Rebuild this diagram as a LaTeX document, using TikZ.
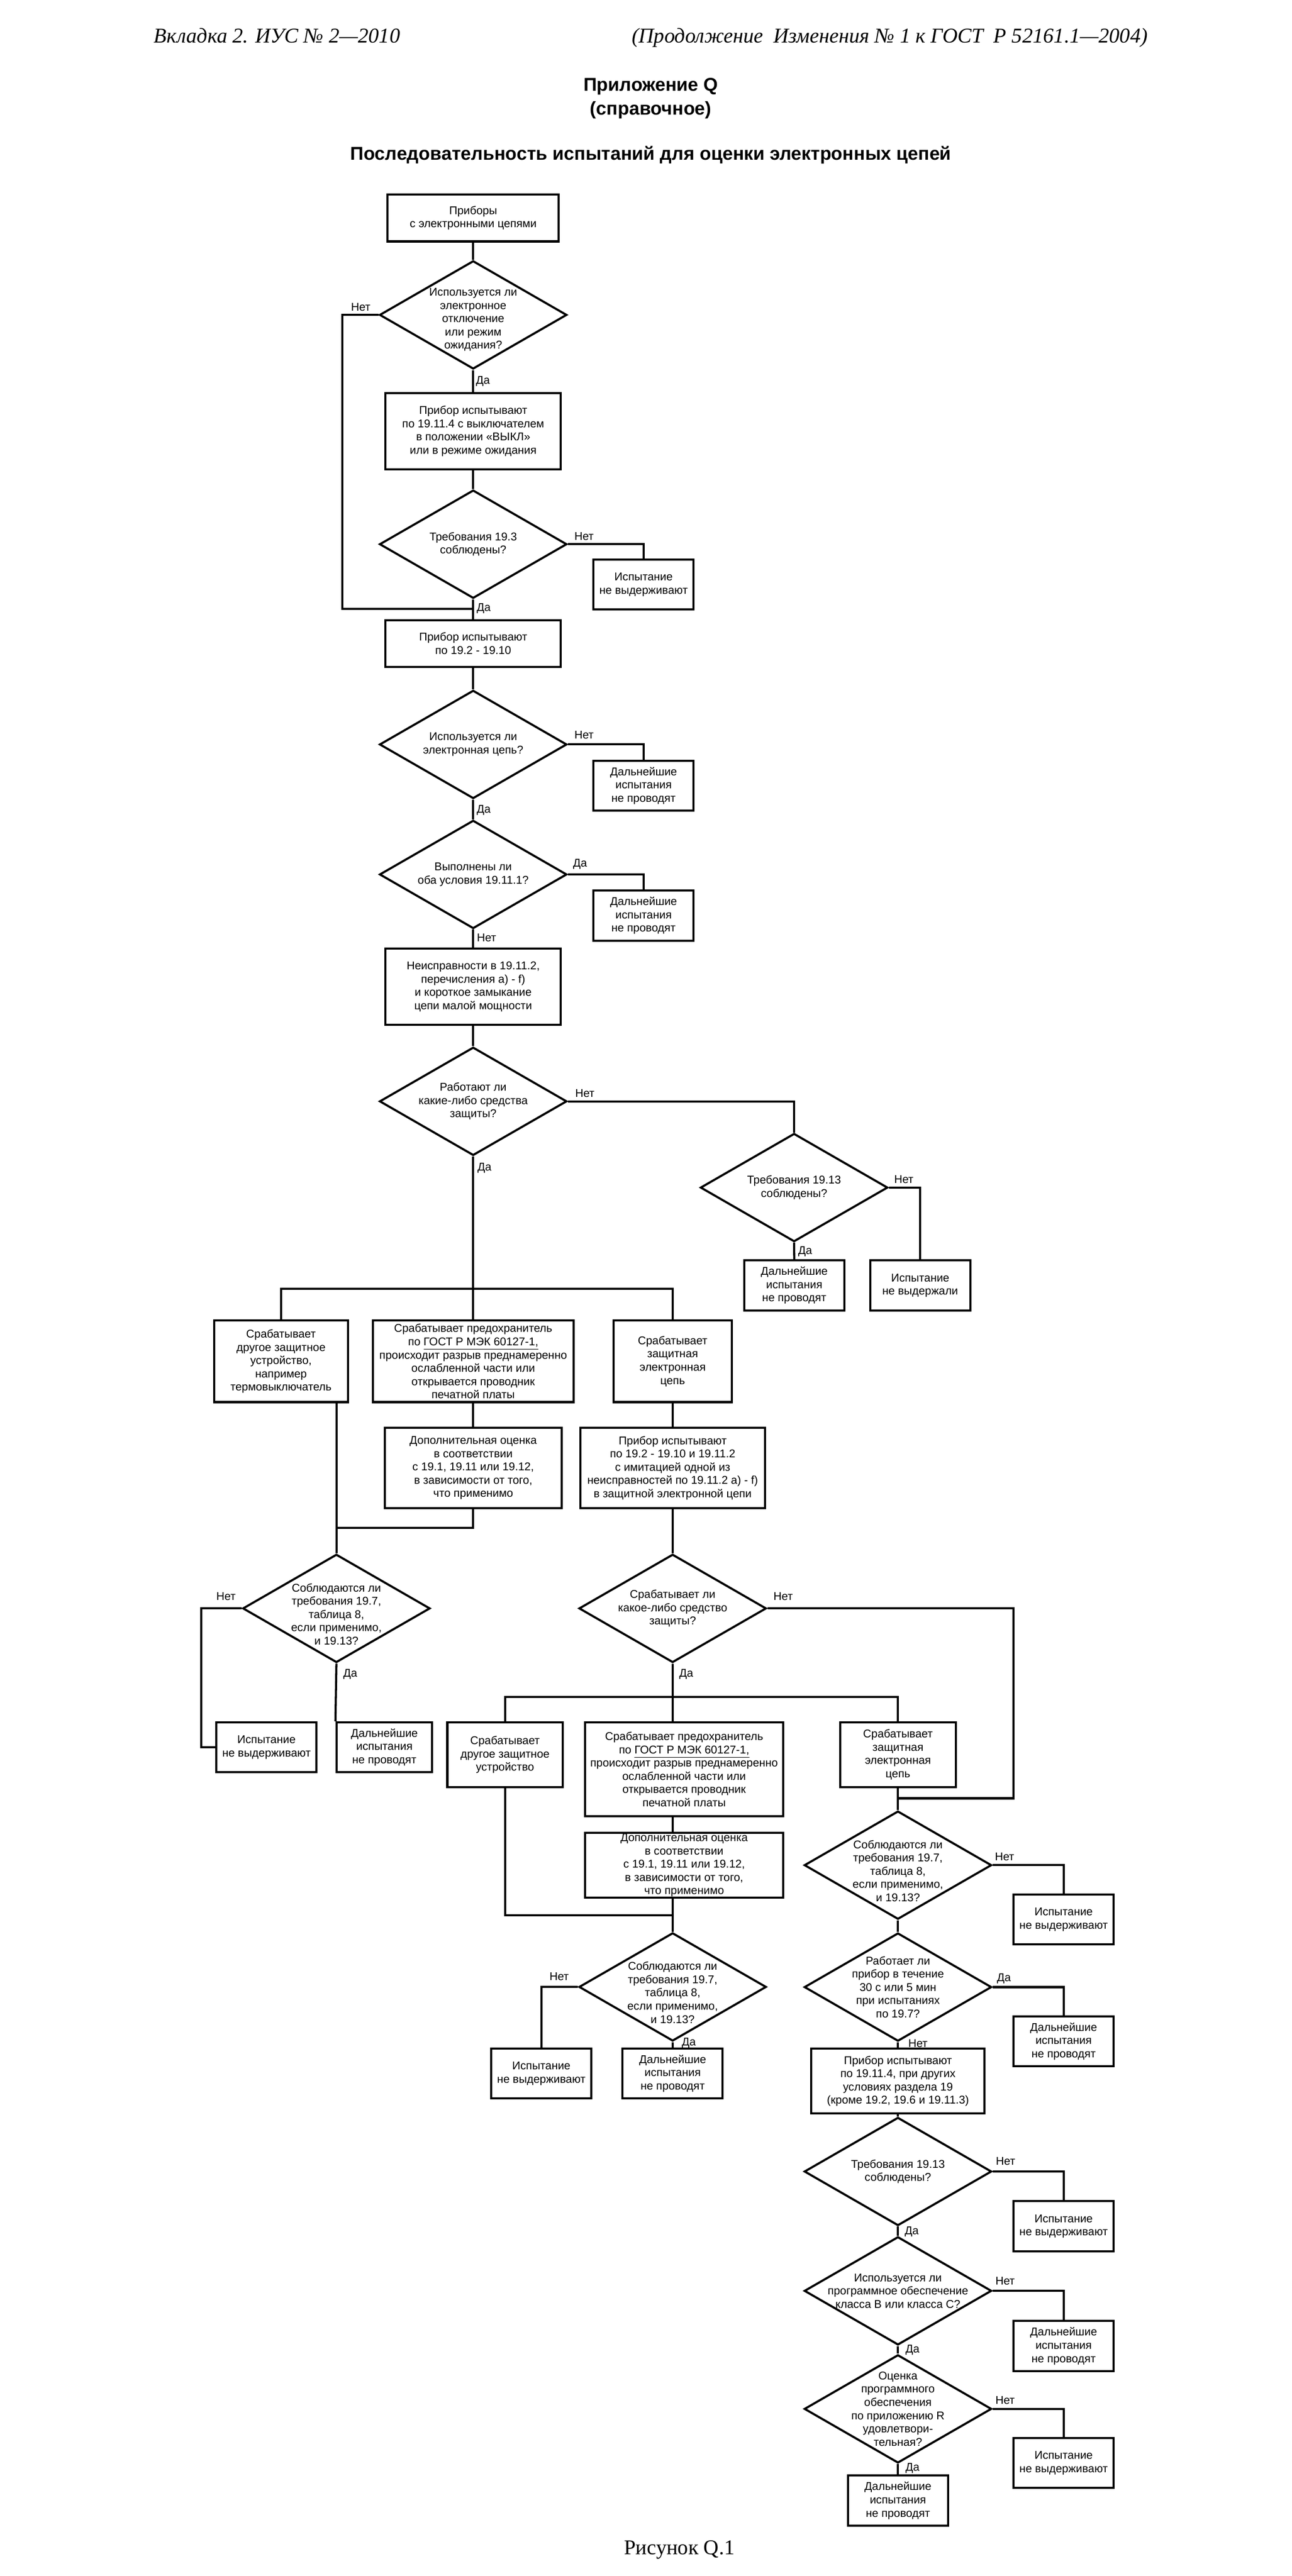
\documentclass[tikz,border=0pt]{standalone}
\usepackage{fontspec}
\setmainfont{Liberation Sans}
\newfontfamily\serifhead{Liberation Serif}
\usetikzlibrary{shapes.geometric, calc}
\tikzstyle{process} = [rectangle, draw=black, line width=1.3pt, inner sep=0pt, align=center, font=\fontsize{7}{8.2}\selectfont]
\tikzstyle{smallbox} = [process, minimum width=62pt, minimum height=31pt]
\tikzstyle{decision} = [diamond, draw=black, line width=1.3pt, inner sep=0pt, minimum width=116pt, minimum height=67pt]
\tikzstyle{qtext} = [align=center, inner sep=0pt, font=\fontsize{7}{8.2}\selectfont]
\tikzstyle{answer} = [inner sep=0pt, font=\fontsize{7}{8.2}\selectfont]
\tikzstyle{flow} = [line width=1.3pt]
\begin{document}
\begin{tikzpicture}[x=1pt, y=-1pt]
      \useasboundingbox (0,0) rectangle (800,1595.2);
      \node (hdleft) [anchor=base west, font=\serifhead\itshape\fontsize{13}{15}\selectfont] at (91.8,26.5) {Вкладка 2. ИУС № 2—2010};
      \node (hdright) [anchor=base east, font=\serifhead\itshape\fontsize{13}{15}\selectfont] at (714.2,26.5) {(Продолжение\ \ Изменения № 1 к ГОСТ\ \ Р 52161.1—2004)};
      \node (annex) [anchor=base, font=\bfseries\fontsize{11.5}{13}\selectfont] at (403,56.5) {Приложение Q};
      \node (annexkind) [anchor=base, font=\bfseries\fontsize{11.5}{13}\selectfont] at (403,71) {(справочное)};
      \node (title) [anchor=base, font=\bfseries\fontsize{11.5}{13}\selectfont] at (403,99) {Последовательность испытаний для оценки электронных цепей};
      \node (caption) [anchor=base, font=\serifhead\fontsize{13}{15}\selectfont] at (420.7,1582) {Рисунок Q.1};

      \node (start) [process, minimum width=106pt, minimum height=29pt] at (293,135) {Приборы\\ с электронными цепями};
      \node (q1) [decision, label={[qtext, yshift=-3pt]center:{Используется ли\\ электронное\\ отключение\\ или режим\\ ожидания?}}] at (293,195) {};
      \node (offtest) [process, minimum width=108.5pt, minimum height=47pt] at (293,267) {Прибор испытывают\\ по 19.11.4 с выключателем\\ в положении «ВЫКЛ»\\ или в режиме ожидания};
      \node (q2) [decision, label={[qtext]center:{Требования 19.3\\ соблюдены?}}] at (293,337) {};
      \node (fail1) [smallbox] at (398.5,362) {Испытание\\ не выдерживают};
      \node (gentest) [process, minimum width=108.5pt, minimum height=29pt] at (293,398.5) {Прибор испытывают\\ по 19.2 - 19.10};
      \node (q3) [decision, label={[qtext]center:{Используется ли\\ электронная цепь?}}] at (293,461) {};
      \node (stop1) [smallbox] at (398.5,486.5) {Дальнейшие\\ испытания\\ не проводят};
      \node (q4) [decision, label={[qtext]center:{Выполнены ли\\ оба условия 19.11.1?}}] at (293,541.5) {};
      \node (stop2) [smallbox] at (398.5,567) {Дальнейшие\\ испытания\\ не проводят};
      \node (faults) [process, minimum width=108.5pt, minimum height=47.5pt] at (293,611) {Неисправности в 19.11.2,\\ перечисления a) - f)\\ и короткое замыкание\\ цепи малой мощности};
      \node (q5) [decision, label={[qtext]center:{Работают ли\\ какие-либо средства\\ защиты?}}] at (293,682) {};
      \node (q6) [decision, label={[qtext]center:{Требования 19.13\\ соблюдены?}}] at (491.7,735.4) {};
      \node (stop3) [smallbox] at (491.8,796) {Дальнейшие\\ испытания\\ не проводят};
      \node (fail2) [smallbox] at (569.8,796) {Испытание\\ не выдержали};

      \node (devA) [process, minimum width=82.8pt, minimum height=50.5pt] at (174,843) {Срабатывает\\ другое защитное\\ устройство,\\ например\\ термовыключатель};
      \node (fuseA) [process, minimum width=124.4pt, minimum height=50.5pt] at (293,843) {Срабатывает предохранитель\\ по \underline{ГОСТ Р МЭК 60127-1,}\\ происходит разрыв преднамеренно\\ ослабленной части или\\ открывается проводник\\ печатной платы};
      \node (circA) [process, minimum width=73.2pt, minimum height=50.5pt] at (416.5,843) {Срабатывает\\ защитная\\ электронная\\ цепь};
      \node (evalA) [process, minimum width=109.6pt, minimum height=50pt] at (293,909) {Дополнительная оценка\\ в соответствии\\ с 19.1, 19.11 или 19.12,\\ в зависимости от того,\\ что применимо};
      \node (simtest) [process, minimum width=114.4pt, minimum height=50pt] at (416.5,909) {Прибор испытывают\\ по 19.2 - 19.10 и 19.11.2\\ с имитацией одной из\\ неисправностей по 19.11.2 a) - f)\\ в защитной электронной цепи};
      \node (q7) [decision, label={[qtext, yshift=-3.5pt]center:{Соблюдаются ли\\ требования 19.7,\\ таблица 8,\\ если применимо,\\ и 19.13?}}] at (208.3,996) {};
      \node (q8) [decision, label={[qtext]center:{Срабатывает ли\\ какое-либо средство\\ защиты?}}] at (416.5,996) {};
      \node (fail3) [smallbox] at (165,1082) {Испытание\\ не выдерживают};
      \node (stop4) [smallbox, minimum width=59.3pt] at (238,1082) {Дальнейшие\\ испытания\\ не проводят};

      \node (devB) [process, minimum width=71.4pt, minimum height=40pt] at (312.7,1086.6) {Срабатывает\\ другое защитное\\ устройство};
      \node (fuseB) [process, minimum width=122.7pt, minimum height=58pt] at (423.6,1095.6) {Срабатывает предохранитель\\ по \underline{ГОСТ Р МЭК 60127-1,}\\ происходит разрыв преднамеренно\\ ослабленной части или\\ открывается проводник\\ печатной платы};
      \node (circB) [process, minimum width=71.5pt, minimum height=40pt] at (556,1086.6) {Срабатывает\\ защитная\\ электронная\\ цепь};
      \node (evalB) [process, minimum width=122.7pt, minimum height=40pt] at (423.6,1155) {Дополнительная оценка\\ в соответствии\\ с 19.1, 19.11 или 19.12,\\ в зависимости от того,\\ что применимо};
      \node (q9) [decision, label={[qtext, yshift=-3.5pt]center:{Соблюдаются ли\\ требования 19.7,\\ таблица 8,\\ если применимо,\\ и 19.13?}}] at (556,1155) {};
      \node (fail5) [smallbox] at (658.6,1188.6) {Испытание\\ не выдерживают};
      \node (q10) [decision, label={[qtext, yshift=-3.5pt]center:{Соблюдаются ли\\ требования 19.7,\\ таблица 8,\\ если применимо,\\ и 19.13?}}] at (416.5,1230.4) {};
      \node (fail4) [smallbox] at (335.2,1284) {Испытание\\ не выдерживают};
      \node (stop5) [smallbox] at (416.5,1284) {Дальнейшие\\ испытания\\ не проводят};
      \node (q11) [decision, label={[qtext]center:{Работает ли\\ прибор в течение\\ 30 с или 5 мин\\ при испытаниях\\ по 19.7?}}] at (556,1230.5) {};
      \node (stop6) [smallbox] at (658.6,1264) {Дальнейшие\\ испытания\\ не проводят};
      \node (swtest) [process, minimum width=107.4pt, minimum height=40pt] at (556,1288.7) {Прибор испытывают\\ по 19.11.4, при других\\ условиях раздела 19\\ (кроме 19.2, 19.6 и 19.11.3)};
      \node (q12) [decision, label={[qtext]center:{Требования 19.13\\ соблюдены?}}] at (556,1344.7) {};
      \node (fail6) [smallbox] at (658.6,1378.6) {Испытание\\ не выдерживают};
      \node (q13) [decision, label={[qtext]center:{Используется ли\\ программное обеспечение\\ класса B или класса C?}}] at (556,1418.6) {};
      \node (stop7) [smallbox] at (658.6,1452.8) {Дальнейшие\\ испытания\\ не проводят};
      \node (q14) [decision, label={[qtext]center:{Оценка\\ программного\\ обеспечения\\ по приложению R\\ удовлетвори-\\ тельная?}}] at (556,1491.7) {};
      \node (fail7) [smallbox] at (658.6,1525.2) {Испытание\\ не выдерживают};
      \node (stop8) [smallbox] at (556,1548.5) {Дальнейшие\\ испытания\\ не проводят};

      \coordinate (skip1) at (212,377);
      \coordinate (join1) at (293,377);
      \coordinate (bar1) at (293,798.2);
      \coordinate (join2) at (208.3,946);
      \coordinate (skip2) at (124.5,1082);
      \coordinate (bar2) at (416.5,1050.9);
      \coordinate (skip3) at (627.6,1113.6);
      \coordinate (join3) at (556,1113.6);
      \coordinate (join4) at (416.5,1186);

      \draw [flow] (start.south) -- (q1.north);
      \draw [flow] (q1.south) -- (offtest.north);
      \draw [flow] (offtest.south) -- (q2.north);
      \draw [flow] (q2.south) -- (gentest.north);
      \draw [flow] (q1.west) -| (skip1) -- (join1);
      \draw [flow] (q2.east) -| (fail1.north);
      \draw [flow] (gentest.south) -- (q3.north);
      \draw [flow] (q3.east) -| (stop1.north);
      \draw [flow] (q3.south) -- (q4.north);
      \draw [flow] (q4.east) -| (stop2.north);
      \draw [flow] (q4.south) -- (faults.north);
      \draw [flow] (faults.south) -- (q5.north);
      \draw [flow] (q5.east) -| (q6.north);
      \draw [flow] (q6.south) -- (stop3.north);
      \draw [flow] (q6.east) -| (fail2.north);

      \draw [flow] (q5.south) -- (fuseA.north);
      \draw [flow] (devA.north) |- (bar1) -| (circA.north);
      \draw [flow] (fuseA.south) -- (evalA.north);
      \draw [flow] (circA.south) -- (simtest.north);
      \draw [flow] (devA.south -| q7.north) -- (q7.north);
      \draw [flow] (evalA.south) |- (join2);
      \draw [flow] (q7.west) -| (skip2) -- (fail3.west);
      \draw [flow] (q7.south) -- (stop4.north west);
      \draw [flow] (simtest.south) -- (q8.north);

      \draw [flow] (q8.south) -- (q8.south |- fuseB.north);
      \draw [flow] (devB.north) |- (bar2) -| (circB.north);
      \draw [flow] (q8.east) -| (skip3) -- (join3);
      \draw [flow] (circB.south) -- (q9.north);
      \draw [flow] (q8.south |- fuseB.south) -- (q8.south |- evalB.north);
      \draw [flow] (q8.south |- evalB.south) -- (q10.north);
      \draw [flow] (devB.south) |- (join4);
      \draw [flow] (q10.west) -| (fail4.north);
      \draw [flow] (q10.south) -- (stop5.north);

      \draw [flow] (q9.east) -| (fail5.north);
      \draw [flow] (q9.south) -- (q11.north);
      \draw [flow] (q11.east) -| (stop6.north);
      \draw [flow] (q11.south) -- (swtest.north);
      \draw [flow] (swtest.south) -- (q12.north);
      \draw [flow] (q12.east) -| (fail6.north);
      \draw [flow] (q12.south) -- (q13.north);
      \draw [flow] (q13.east) -| (stop7.north);
      \draw [flow] (q13.south) -- (q14.north);
      \draw [flow] (q14.east) -| (fail7.north);
      \draw [flow] (q14.south) -- (stop8.north);

      \node (q1no) [answer] at ($(q1.west)+(-11,-5)$) {Нет};
      \node (q1yes) [answer] at ($(q1.south)+(6,7)$) {Да};
      \node (q2no) [answer] at ($(q2.east)+(10,-5)$) {Нет};
      \node (q2yes) [answer] at ($(q2.south)+(6.5,5.5)$) {Да};
      \node (q3no) [answer] at ($(q3.east)+(10,-6)$) {Нет};
      \node (q3yes) [answer] at ($(q3.south)+(6.5,6.5)$) {Да};
      \node (q4yes) [answer] at ($(q4.east)+(7.5,-6.5)$) {Да};
      \node (q4no) [answer] at ($(q4.south)+(8.3,5)$) {Нет};
      \node (q5no) [answer] at ($(q5.east)+(10.5,-5)$) {Нет};
      \node (q5yes) [answer] at ($(q5.south)+(7,7)$) {Да};
      \node (q6no) [answer] at ($(q6.east)+(9.3,-5)$) {Нет};
      \node (q6yes) [answer] at ($(q6.south)+(6.8,5.5)$) {Да};
      \node (q7no) [answer] at ($(q7.west)+(-9.7,-7.4)$) {Нет};
      \node (q7yes) [answer] at ($(q7.south)+(8.6,6.5)$) {Да};
      \node (q8no) [answer] at ($(q8.east)+(9.8,-7.4)$) {Нет};
      \node (q8yes) [answer] at ($(q8.south)+(8.4,6.5)$) {Да};
      \node (q9no) [answer] at ($(q9.east)+(7.4,-5.2)$) {Нет};
      \node (q10no) [answer] at ($(q10.west)+(-11.6,-6.4)$) {Нет};
      \node (q10yes) [answer] at ($(q10.south)+(10,0.6)$) {Да};
      \node (q11yes) [answer] at ($(q11.east)+(7,-5.3)$) {Да};
      \node (q11no) [answer] at ($(q11.south)+(12.4,0.8)$) {Нет};
      \node (q12no) [answer] at ($(q12.east)+(8,-6.5)$) {Нет};
      \node (q12yes) [answer] at ($(q12.south)+(8.5,3)$) {Да};
      \node (q13no) [answer] at ($(q13.east)+(7.7,-6.2)$) {Нет};
      \node (q13yes) [answer] at ($(q13.south)+(9,2.6)$) {Да};
      \node (q14no) [answer] at ($(q14.east)+(7.7,-5.4)$) {Нет};
      \node (q14yes) [answer] at ($(q14.south)+(9,2.5)$) {Да};
    \end{tikzpicture}
\end{document}
